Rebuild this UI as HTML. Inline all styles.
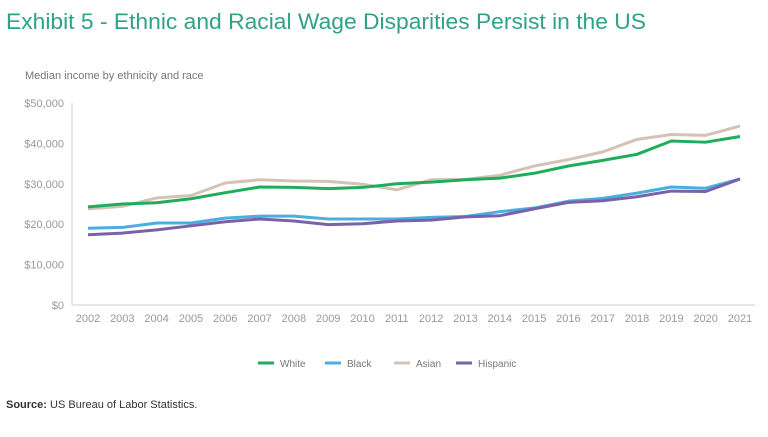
<!DOCTYPE html>
<html><head><meta charset="utf-8"><style>
body{margin:0;background:#fff;width:768px;height:432px;overflow:hidden;font-family:"Liberation Sans",sans-serif;}
</style></head><body>
<svg width="768" height="432" viewBox="0 0 768 432" id="svg">
<text x="6" y="29" font-size="22" fill="#2fa383" textLength="640" lengthAdjust="spacingAndGlyphs">Exhibit 5 - Ethnic and Racial Wage Disparities Persist in the US</text>
<text x="25" y="79" font-size="11" fill="#777">Median income by ethnicity and race</text>
<text x="6" y="408" font-size="11" fill="#333"><tspan font-weight="bold">Source:</tspan> US Bureau of Labor Statistics.</text>
<g id="plot"></g>
</svg>
<script>
const years=["2002","2003","2004","2005","2006","2007","2008","2009","2010","2011","2012","2013","2014","2015","2016","2017","2018","2019","2020","2021"];
const yTicks=[0,10000,20000,30000,40000,50000];
const white=[24300,25000,25300,26300,27800,29200,29100,28800,29100,30000,30400,31000,31400,32600,34400,35800,37300,40600,40300,41700];
const black=[19000,19200,20300,20300,21500,22000,22000,21300,21300,21300,21700,21900,23100,24000,25700,26400,27700,29200,28900,31200];
const asian=[23800,24400,26500,27100,30200,31000,30700,30600,29900,28500,31000,31100,32100,34400,36000,37900,41000,42200,42000,44300];
const hispanic=[17400,17800,18600,19600,20600,21300,20800,19900,20100,20800,21000,21800,22100,23800,25400,25800,26800,28200,28100,31200];
const NS="http://www.w3.org/2000/svg";
const g=document.getElementById('plot');
const x0=72,x1=755,yb=305,yt=103;
function xs(i){return 88+i*(740-88)/(years.length-1);}
function ys(v){return yb-(v/50000)*(yb-yt);}
function mk(t,a){const e=document.createElementNS(NS,t);for(const k in a)e.setAttribute(k,a[k]);g.appendChild(e);return e;}
let ax=mk('line',{x1:x0,y1:yt,x2:x0,y2:yb,stroke:'#ccc','stroke-width':1});


let bx=mk('line',{x1:x0,y1:yb,x2:x1,y2:yb,stroke:'#ccc','stroke-width':1});


yTicks.forEach(v=>{const t=mk('text',{x:64,y:ys(v)+4,'font-size':11,fill:'#999','text-anchor':'end'});t.textContent='$'+v.toLocaleString('en-US');

});
years.forEach((y,i)=>{const t=mk('text',{x:xs(i),y:322,'font-size':11,fill:'#999','text-anchor':'middle'});t.textContent=y;

});
const series=[["White",white,"#1fad5c"],["Black",black,"#4aafe0"],["Asian",asian,"#d4c2b4"],["Hispanic",hispanic,"#7b62a8"]];
const draw=[series[2],series[0],series[1],series[3]];
draw.forEach(s=>{const p=mk('polyline',{points:s[1].map((v,i)=>xs(i)+','+ys(v)).join(' '),fill:'none',stroke:s[2],'stroke-width':3,'stroke-linejoin':'round'});

});
const lx=[258,325,394,456];
series.forEach((s,i)=>{const l=mk('line',{x1:lx[i],y1:363,x2:lx[i]+16,y2:363,stroke:s[2],'stroke-width':3});


const t=mk('text',{x:lx[i]+22,y:367,'font-size':10,fill:'#777'});t.textContent=s[0];

});
</script>
</body></html>
